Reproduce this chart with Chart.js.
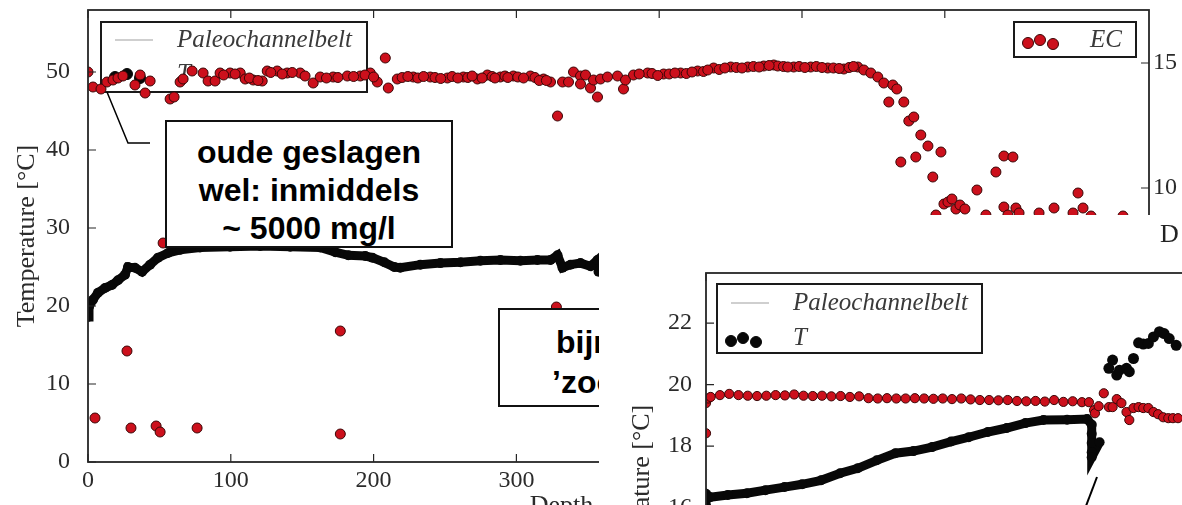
<!DOCTYPE html>
<html>
<head>
<meta charset="utf-8">
<title>Temperature and EC versus depth</title>
<script src="https://cdn.jsdelivr.net/npm/chart.js@4.4.0/dist/chart.umd.min.js"></script>
<style>
  html, body { margin: 0; padding: 0; background: #fff; }
  body { width: 1182px; height: 505px; position: relative; overflow: hidden; }
  canvas { display: block; }
  #main { position: absolute; left: 0; top: 0; }
  .note { position: absolute; box-sizing: border-box; background: #fff; border: 2px solid #111;
          font: bold 32px 'Liberation Sans', Arial, sans-serif; line-height: 38px; color: #000; white-space: nowrap; }
  #note1 { left: 165px; top: 120px; width: 288px; height: 128px; padding-top: 11px; text-align: center; }
  #note2 { left: 498px; top: 308px; width: 320px; height: 99px; padding-top: 12px; line-height: 40px; }
  #note2 .l1 { margin-left: 56px; }
  #note2 .l2 { margin-left: 52px; }
  #inset { position: absolute; left: 599px; top: 215px; width: 583px; height: 290px; overflow: hidden; background: #fff; }
  #inset canvas { position: absolute; left: 0; top: 0; }
  #cut { position: absolute; left: 1160px; top: 219px; font: 26px 'Liberation Serif', serif; color: #222; }
  svg { position: absolute; left: 0; top: 0; }
</style>
</head>
<body>
<canvas id="main" width="1182" height="524"></canvas>
<div class="note" id="note1">oude geslagen<br>wel: inmiddels<br>~ 5000 mg/l</div>
<div class="note" id="note2"><div class="l1">bijna zoet</div><div class="l2">’zoom’</div></div>
<div id="inset"><canvas id="zoom" width="800" height="547"></canvas></div>
<div id="cut">D</div>
<svg width="1182" height="505">
  <polyline points="107,92 128,143 150,143" fill="none" stroke="#000" stroke-width="1.5"/>
  <line x1="1097" y1="477" x2="1086" y2="506" stroke="#000" stroke-width="2"/>
</svg>
<script>
// main chart: depth [m] against temperature (left) and EC (right)
const tDepth = [0, 0.7, 3.5, 7, 11.9, 16.8, 21, 25.9, 28, 32.9, 37.9, 43.5, 49.1, 56.1, 64.5, 78.5, 99.5, 120.6,
  141.6, 162.6, 173.2, 182.3, 194.2, 199.1, 207.5, 214.5, 218.7, 232.7, 246.8, 260.8, 274.8, 288.8, 302.8,
  314.7, 323.9, 328.8, 332.3, 337.9, 344.9, 351.9, 356.8, 357.5];
const tTemp = [18.6, 19.9, 20.8, 21.7, 22.3, 22.7, 23.3, 24.0, 25.0, 24.9, 24.4, 25.3, 26.2, 26.8, 27.2, 27.5, 27.6, 27.7,
  27.6, 27.5, 26.9, 26.5, 26.4, 26.2, 25.6, 25.0, 24.9, 25.3, 25.5, 25.6, 25.8, 25.9, 25.8,
  25.9, 25.9, 26.5, 24.9, 25.3, 25.5, 25.1, 25.9, 24.4];

const ecDepth = [0, 3.5, 9.1, 13.3, 17.5, 21.0, 24.5, 32.9, 36.5, 40.0,
  43.5, 57.5, 60.3, 64.5, 66.6, 72.9, 80.6, 84.1, 89.0, 92.5,
  99.5, 106.6, 110.1, 115.7, 122.0, 125.5, 132.5, 139.5, 148.6, 157.7,
  162.6, 171.7, 181.6, 190.7, 197.7, 202.6, 208.2, 210.3, 216.6, 227.8,
  239.7, 251.7, 262.9, 272.7, 279.7, 288.8, 297.9, 309.8, 319.0, 323.9,
  328.8, 332.3, 336.5, 340.0, 344.9, 348.4, 344.9, 351.9, 354.0, 356.8,
  358.9, 363.8, 370.8, 375.0, 376.4, 382.0, 391.9, 403.1, 415.0, 426.9,
  438.1, 450.1, 462.0, 473.2, 480.2, 483.0, 494.2, 506.1, 518.0, 529.3,
  539.1, 543.3, 548.2, 553.1, 557.3, 560.8, 563.6, 566.4, 569.2, 571.3,
  574.8, 578.3, 579.7, 583.2, 588.2, 591.6, 597.3, 593.8, 599.4, 602.2,
  605.0, 607.8, 610.6, 614.1, 622.5, 628.8, 635.8, 641.4, 641.4, 644.2,
  647.7, 649.8, 652.0, 666.0, 676.5, 689.8, 693.3, 696.8, 702.4, 724.8,
  95, 103, 113, 119, 128, 136, 143, 152, 167, 175, 186, 194, 200,
  220, 224, 231, 235, 243, 247, 255, 259, 266, 269, 276, 283, 285, 292, 294, 301, 305, 313, 316, 321,
  386, 395, 399, 407, 411, 419, 423, 431, 434, 442, 446, 454, 458, 466, 470, 477, 487, 490, 498, 502,
  510, 514, 522, 526, 533, 536,
  4.9, 27.3, 30.1, 47.7, 50.5, 52.6, 76.4, 176.7, 176.7, 328.0];
const ecValue = [14.64, 14.04, 13.96, 14.24, 14.32, 14.40, 14.48, 14.12, 14.52, 13.80,
  14.28, 13.56, 13.64, 14.24, 14.36, 14.68, 14.60, 14.28, 14.28, 14.60,
  14.60, 14.60, 14.36, 14.32, 14.28, 14.68, 14.68, 14.60, 14.60, 14.20,
  14.44, 14.44, 14.48, 14.48, 14.60, 14.24, 15.20, 14.00, 14.36, 14.44,
  14.44, 14.40, 14.44, 14.36, 14.52, 14.44, 14.48, 14.48, 14.36, 14.24,
  12.88, 14.24, 14.24, 14.64, 14.48, 14.52, 14.16, 14.00, 14.32, 13.64,
  14.36, 14.44, 14.48, 13.96, 14.32, 14.52, 14.60, 14.56, 14.60, 14.68,
  14.80, 14.84, 14.84, 14.88, 14.92, 14.88, 14.84, 14.84, 14.80, 14.76,
  14.84, 14.72, 14.60, 14.44, 14.20, 13.44, 14.12, 13.96, 11.04, 13.44,
  12.68, 12.84, 11.24, 12.12, 11.68, 10.44, 11.44, 8.92, 9.36, 9.44,
  9.56, 9.16, 9.32, 9.16, 9.92, 8.92, 10.64, 11.28, 9.24, 8.92,
  11.24, 9.20, 9.00, 9.00, 9.20, 9.00, 9.80, 9.20, 8.88, 8.88,
  14.52, 14.56, 14.40, 14.30, 14.62, 14.56, 14.62, 14.48, 14.40, 14.42, 14.46, 14.52, 14.44,
  14.42, 14.46, 14.40, 14.46, 14.42, 14.38, 14.46, 14.40, 14.42, 14.48, 14.40, 14.46, 14.40, 14.48, 14.42, 14.44, 14.40, 14.42, 14.30, 14.30,
  14.56, 14.58, 14.50, 14.56, 14.60, 14.58, 14.64, 14.66, 14.72, 14.74, 14.80, 14.82, 14.80, 14.86, 14.84, 14.90, 14.86, 14.84, 14.86, 14.82,
  14.86, 14.82, 14.80, 14.78, 14.82, 14.86,
  0.80, 3.48, 0.40, 0.48, 0.24, 7.80, 0.40, 4.28, 0.16, 5.24];

// inset (zoom) chart
const zoomDepth = [0, 0, 0.9, 4.7, 8.8, 12.8, 16.9, 20.7, 24.8, 28.9, 32.7, 36.8, 40.8, 44.7, 48.7, 52.8,
  56.6, 60.7, 64.8, 68.8, 72.7, 77.8, 82.1, 83.1, 83.1, 83.1, 83.1, 83.1, 84.8];
const zoomT = [16.05, 16.45, 16.34, 16.41, 16.47, 16.57, 16.67, 16.76, 16.89, 17.12, 17.28, 17.54, 17.77, 17.84, 17.97, 18.15,
  18.29, 18.46, 18.59, 18.75, 18.85, 18.86, 18.88, 18.70, 18.40, 18.10, 17.80, 17.64, 18.13];
const jumpDepth = [86.8, 87.6, 88.5, 89.1, 90.6, 91.2, 92.1, 93.2, 94.2, 95.3, 96.4, 97.7, 98.7, 99.8, 101.3];
const jumpT = [20.53, 20.80, 20.31, 20.47, 20.53, 20.42, 20.85, 21.36, 21.32, 21.34, 21.55, 21.72, 21.66, 21.50, 21.28];
const zoomEcDepth = [0, 0, 0.5, 1, 3, 5, 7, 9, 11, 13, 15, 17, 19, 21, 23, 25, 27, 29, 31, 33, 35, 37, 39, 41, 43,
  45, 47, 49, 51, 53, 55, 57, 59, 61, 63, 65, 67, 69, 71, 73, 75, 77, 79, 81, 82.5,
  83.6, 83.8, 84.6, 85.7, 86.8, 87.6, 88.5, 89.5, 90.6, 91.2, 92.1, 93.2, 94.2, 95.3, 96.4, 97.4, 98.5, 99.6, 100.6, 101.7];
const zoomEc = [18.42, 19.40, 19.55, 19.60, 19.66, 19.70, 19.66, 19.64, 19.63, 19.64, 19.66, 19.65, 19.68, 19.64, 19.63,
  19.64, 19.62, 19.63, 19.60, 19.62, 19.56, 19.55, 19.56, 19.55, 19.55, 19.56, 19.55, 19.54, 19.55, 19.53, 19.55,
  19.52, 19.50, 19.50, 19.49, 19.50, 19.47, 19.46, 19.47, 19.45, 19.50, 19.44, 19.46, 19.43, 19.43,
  19.17, 19.07, 19.30, 19.72, 19.27, 19.27, 19.53, 19.40, 19.11, 18.85, 19.24, 19.27, 19.24, 19.24, 19.11,
  19.04, 18.94, 18.91, 18.91, 18.91];

const serif = "'Liberation Serif', 'DejaVu Serif', serif";
const ink = '#2b2b2b';
const red = '#cc101c';
const redEdge = '#3a0606';

const pts = (xs, ys) => xs.map((x, i) => ({ x: x, y: ys[i] }));

function keepEvery(step) {
  return s => {
    s.ticks = s.ticks.filter(t => Math.abs(t.value / step - Math.round(t.value / step)) < 1e-6);
  };
}
function fixSize(w, h) {
  return s => {
    if (w != null) s.width = w;
    if (h != null) s.height = h;
    s.paddingTop = s.paddingBottom = s.paddingLeft = s.paddingRight = 0;
  };
}

// matplotlib-like legend box
function drawKey(chart, k) {
  const ctx = chart.ctx, a = chart.chartArea;
  const left = k.x >= 0 ? a.left + k.x : a.right + k.x - k.w;
  const top = a.top + k.y;
  ctx.save();
  ctx.fillStyle = '#fff';
  ctx.fillRect(left, top, k.w, k.h);
  ctx.strokeStyle = '#1a1a1a';
  ctx.lineWidth = 2;
  ctx.strokeRect(left, top, k.w, k.h);
  k.rows.forEach((idx, r) => {
    const ds = chart.data.datasets[idx];
    const cy = top + k.dy[r];
    if (ds.keyStyle === 'line') {
      ctx.strokeStyle = ds.borderColor;
      ctx.lineWidth = 2;
      ctx.beginPath();
      ctx.moveTo(left + 14, cy);
      ctx.lineTo(left + 52, cy);
      ctx.stroke();
    } else {
      [[14, 1], [26, -2], [39, 2]].forEach(([dx, dd]) => {
        ctx.beginPath();
        ctx.arc(left + dx, cy + 2 + dd, 5.5, 0, Math.PI * 2);
        ctx.fillStyle = ds.pointBackgroundColor;
        ctx.fill();
        ctx.lineWidth = 1;
        ctx.strokeStyle = ds.pointBorderColor || ds.pointBackgroundColor;
        ctx.stroke();
      });
    }
    ctx.fillStyle = '#3a3a3a';
    ctx.font = 'italic 25px ' + serif;
    ctx.textBaseline = 'middle';
    ctx.fillText(ds.label, left + 76, cy);
  });
  ctx.restore();
}

const framePlugin = {
  id: 'frame',
  afterDatasetDraw(chart, args, opts) {
    (opts.keys || []).filter(k => k.after === args.index).forEach(k => drawKey(chart, k));
  },
  afterDatasetsDraw(chart, args, opts) {
    const ctx = chart.ctx, a = chart.chartArea, sc = chart.scales;
    const len = 8;
    ctx.save();
    ctx.strokeStyle = '#262626';
    ctx.lineWidth = 1.2;
    ctx.beginPath();
    sc.x.ticks.forEach(t => {
      const px = sc.x.getPixelForValue(t.value);
      ctx.moveTo(px, a.bottom); ctx.lineTo(px, a.bottom - len);
      ctx.moveTo(px, a.top); ctx.lineTo(px, a.top + len);
    });
    sc.y.ticks.forEach(t => {
      const py = sc.y.getPixelForValue(t.value);
      ctx.moveTo(a.left, py); ctx.lineTo(a.left + len, py);
    });
    if (sc.y2) {
      sc.y2.ticks.forEach(t => {
        const py = sc.y2.getPixelForValue(t.value);
        ctx.moveTo(a.right, py); ctx.lineTo(a.right - len, py);
      });
    }
    ctx.stroke();
    ctx.lineWidth = 1.8;
    ctx.strokeRect(a.left, a.top, a.right - a.left, a.bottom - a.top);
    ctx.restore();
    (opts.keys || []).filter(k => k.after === 'end').forEach(k => drawKey(chart, k));
  }
};

const tickFont = { family: serif, size: 24 };
const titleFont = { family: serif, size: 26 };

new Chart(document.getElementById('main'), {
  type: 'scatter',
  data: {
    datasets: [
      { label: 'Paleochannelbelt', data: [], borderColor: '#cfcfcf', keyStyle: 'line', order: 3 },
      { label: 'T', data: pts(tDepth, tTemp), showLine: true, borderColor: '#080808', borderWidth: 9,
        pointRadius: 5, pointBackgroundColor: '#080808', pointBorderWidth: 0, keyStyle: 'dots', order: 2, yAxisID: 'y' },
      { label: 'EC', data: pts(ecDepth, ecValue), pointRadius: 5, pointBackgroundColor: red,
        pointBorderColor: redEdge, pointBorderWidth: 1, keyStyle: 'dots', order: 1, yAxisID: 'y2' }
    ]
  },
  options: {
    responsive: false,
    animation: false,
    layout: { padding: { top: 10, left: 0, right: 0, bottom: 0 } },
    plugins: {
      legend: { display: false },
      tooltip: { enabled: false },
      frame: {
        keys: [
          { after: 1, x: 13, y: 12, w: 266, h: 70, rows: [0, 1], dy: [18, 52] },
          { after: 'end', x: -13, y: 12, w: 122, h: 35, rows: [2], dy: [18] }
        ]
      }
    },
    scales: {
      x: {
        type: 'linear', min: 0, max: 743,
        afterBuildTicks: keepEvery(100), afterFit: fixSize(null, 62),
        ticks: { stepSize: 100, maxRotation: 0, padding: 4, color: ink, font: tickFont },
        grid: { display: false, drawTicks: false }, border: { display: false },
        title: { display: true, text: 'Depth below [m]', color: ink, font: titleFont, padding: { top: 0, bottom: 2 } }
      },
      y: {
        position: 'left', min: 0, max: 57.95,
        afterBuildTicks: keepEvery(10), afterFit: fixSize(88, null),
        ticks: { stepSize: 10, padding: 18, color: ink, font: tickFont },
        grid: { display: false, drawTicks: false }, border: { display: false },
        title: { display: true, text: 'Temperature [°C]', color: ink, font: titleFont, padding: { top: 12, bottom: 0 } }
      },
      y2: {
        position: 'right', min: -0.96, max: 17.12,
        afterBuildTicks: keepEvery(5), afterFit: fixSize(33, null),
        ticks: { stepSize: 5, padding: 4, color: ink, font: tickFont },
        grid: { display: false, drawTicks: false }, border: { display: false }
      }
    }
  },
  plugins: [framePlugin]
});

new Chart(document.getElementById('zoom'), {
  type: 'scatter',
  data: {
    datasets: [
      { label: 'Paleochannelbelt', data: [], borderColor: '#cfcfcf', keyStyle: 'line', order: 3 },
      { label: 'T', data: pts(zoomDepth, zoomT), showLine: true, borderColor: '#080808', borderWidth: 9,
        pointRadius: 5, pointBackgroundColor: '#080808', pointBorderWidth: 0, keyStyle: 'dots', order: 2 },
      { label: 'T', data: pts(jumpDepth, jumpT), pointRadius: 5.5, pointBackgroundColor: '#080808',
        pointBorderWidth: 0, order: 2 },
      { label: 'EC', data: pts(zoomEcDepth, zoomEc), pointRadius: 4.6, pointBackgroundColor: red,
        pointBorderColor: redEdge, pointBorderWidth: 1, order: 1 }
    ]
  },
  options: {
    responsive: false,
    animation: false,
    layout: { padding: { top: 58, left: 0, right: 0, bottom: 0 } },
    plugins: {
      legend: { display: false },
      tooltip: { enabled: false },
      frame: { keys: [{ after: 'end', x: 11, y: 11, w: 265, h: 69, rows: [0, 1], dy: [19, 54] }] }
    },
    scales: {
      x: {
        type: 'linear', min: 0, max: 148.1,
        afterBuildTicks: keepEvery(50), afterFit: fixSize(null, 43),
        ticks: { stepSize: 50, maxRotation: 0, padding: 4, color: ink, font: tickFont },
        grid: { display: false, drawTicks: false }, border: { display: false }
      },
      y: {
        position: 'left', min: 9.13, max: 23.63,
        afterBuildTicks: keepEvery(2), afterFit: fixSize(107, null),
        ticks: { stepSize: 2, padding: 14, color: ink, font: tickFont },
        grid: { display: false, drawTicks: false }, border: { display: false },
        title: { display: true, text: 'Temperature [°C]', color: ink, font: titleFont, padding: { top: 28, bottom: 0 } }
      }
    }
  },
  plugins: [framePlugin]
});
</script>
</body>
</html>
